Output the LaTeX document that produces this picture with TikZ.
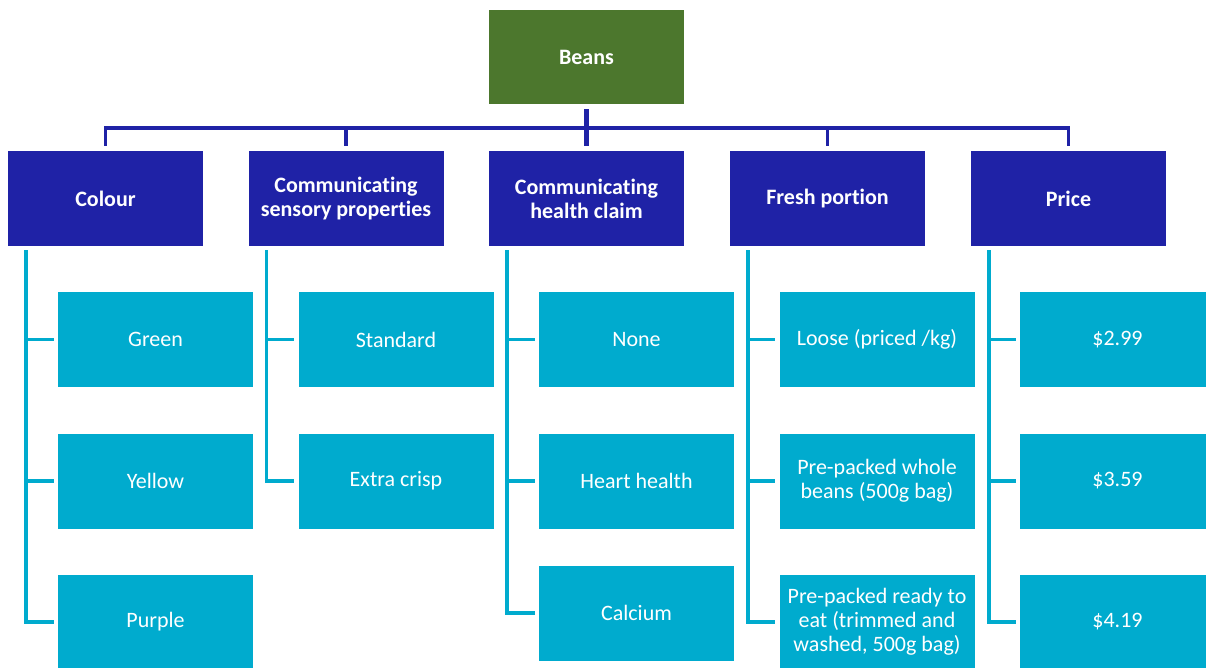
\documentclass[tikz,border=0pt]{standalone}
\usepackage{fontspec}
\setmainfont{Carlito}[Ligatures=NoCommon]
\usepackage{tikz}
\definecolor{beangreen}{HTML}{4C772D}
\definecolor{catblue}{HTML}{1F22A6}
\definecolor{optblue}{HTML}{00ABCE}
\begin{document}
\begin{tikzpicture}[x=1pt,y=-1pt,
  rootbox/.style={fill=beangreen,text=white,font=\fontsize{22}{24}\selectfont\bfseries,minimum width=195pt,minimum height=94pt,inner sep=0pt,align=center},
  catbox/.style={fill=catblue,text=white,font=\fontsize{22}{24}\selectfont\bfseries,minimum width=195pt,minimum height=95pt,inner sep=0pt,align=center},
  optbox/.style={fill=optblue,text=white,font=\fontsize{22}{24}\selectfont,minimum width=195pt,minimum height=95pt,inner sep=0pt,align=center},
  bus/.style={catblue,line width=3.5pt},
  twig/.style={optblue,line width=3.5pt}]
\useasboundingbox (0,0) rectangle (1206,668);

\node[rootbox] (beans) at (586.5,57) {Beans};

\node[catbox] (colour) at (105.5,198.5) {Colour};
\node[catbox] (sensory) at (346,198.5) {Communicating\\sensory properties};
\node[catbox] (health) at (586.5,198.5) {Communicating\\health claim};
\node[catbox] (portion) at (827.5,198.5) {Fresh portion};
\node[catbox] (price) at (1068.5,198.5) {Price};

\node[optbox] (green) at (155.5,339.5) {Green};
\node[optbox] (yellow) at (155.5,481) {Yellow};
\node[optbox] (purple) at (155.5,622) {Purple};

\node[optbox] (standard) at (396,339.5) {Standard};
\node[optbox] (crisp) at (396,481) {Extra crisp};

\node[optbox] (none) at (636.5,339.5) {None};
\node[optbox] (heart) at (636.5,481) {Heart health};
\node[optbox] (calcium) at (636.5,613) {Calcium};

\node[optbox] (loose) at (877,339.5) {Loose (priced /kg)};
\node[optbox] (whole) at (877,481) {Pre-packed whole\\beans (500g bag)};
\node[optbox] (ready) at (877,622) {Pre-packed ready to\\eat (trimmed and\\washed, 500g bag)};

\node[optbox] (low) at (1117.5,339.5) {\$2.99};
\node[optbox] (mid) at (1117.5,481) {\$3.59};
\node[optbox] (high) at (1117.5,622) {\$4.19};

\draw[bus] ([yshift=5pt]colour.north) -- ([yshift=23pt]colour.north) -| ([yshift=5pt]price.north);
\foreach \c in {sensory,portion}
  \draw[bus] ([yshift=5pt]\c.north) -- ([yshift=23pt]\c.north);
\draw[catblue,line width=5.5pt] ([yshift=-5pt]beans.south) -- ([yshift=5pt]health.north);

\foreach \c/\o in {colour/green,colour/yellow,colour/purple,
                   sensory/standard,sensory/crisp,
                   health/none,health/heart,health/calcium,
                   portion/loose,portion/whole,portion/ready,
                   price/low,price/mid,price/high}
  \draw[twig] ([xshift=18pt,yshift=-4pt]\c.south west) |- ([xshift=-4pt]\o.west);

\end{tikzpicture}
\end{document}
